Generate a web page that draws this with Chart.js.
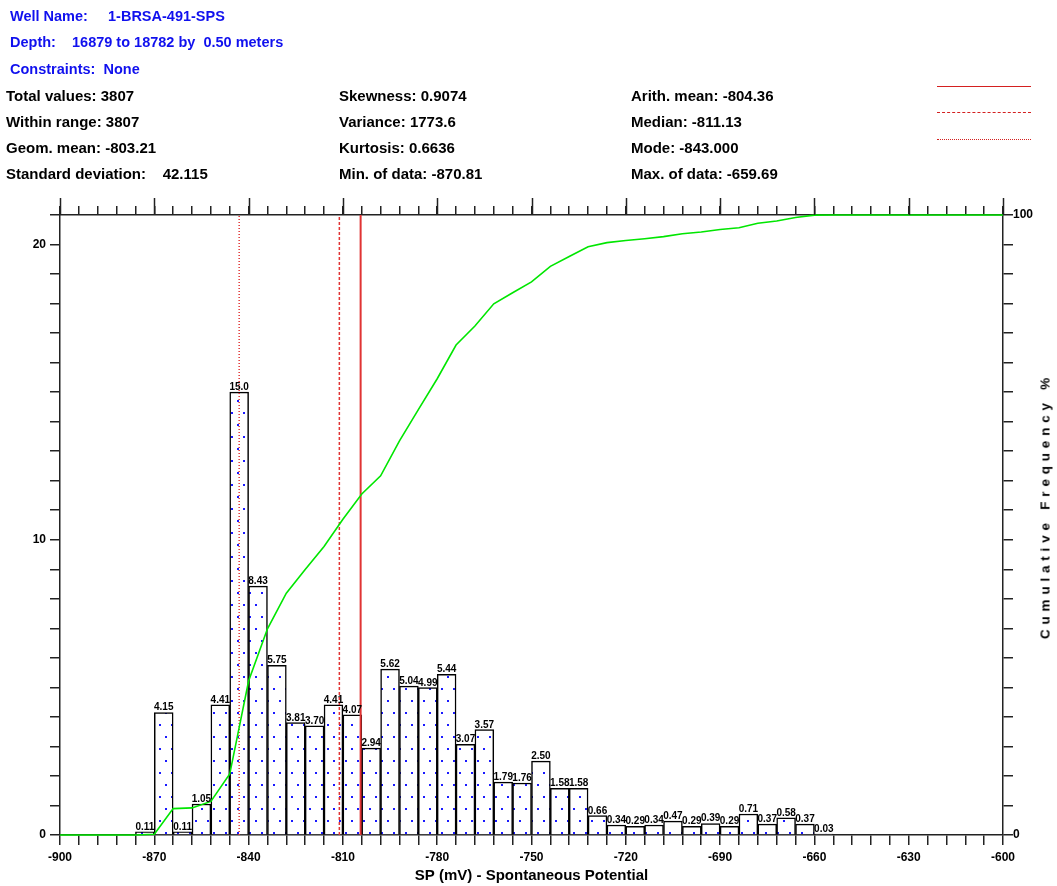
<!DOCTYPE html>
<html>
<head>
<meta charset="utf-8">
<script src="https://cdn.jsdelivr.net/npm/chart.js@4.4.1/dist/chart.umd.min.js"></script>
<style>
  body { margin: 0; background: #fff; font-family: "Liberation Sans", Arial, sans-serif; }
  #wrap { position: relative; width: 1057px; height: 886px; }
  #chart { position: absolute; left: 0; top: 0; }
  .txt { position: absolute; font-weight: bold; white-space: pre; line-height: 1; }
  .blue { color: #1010ee; font-size: 14.5px; }
  .blk { color: #000; font-size: 15px; }
  .leg { position: absolute; left: 937px; width: 94px; height: 0; border-top: 1.5px solid #d42020; }
  #ytitle2 {
    position: absolute; left: 1045px; top: 506px; font-weight: bold; font-size: 13.5px;
    letter-spacing: 4.8px; white-space: nowrap; transform: translate(-50%, -50%) rotate(-90deg);
  }
</style>
</head>
<body>
<div id="wrap">
  <canvas id="chart" width="1057" height="886"></canvas>

  <div class="txt blue" style="left:10px; top:9px;">Well Name:     1-BRSA-491-SPS</div>
  <div class="txt blue" style="left:10px; top:35px;">Depth:    16879 to 18782 by  0.50 meters</div>
  <div class="txt blue" style="left:10px; top:62px;">Constraints:  None</div>

  <div class="txt blk" style="left:6px; top:88px;">Total values: 3807</div>
  <div class="txt blk" style="left:6px; top:114px;">Within range: 3807</div>
  <div class="txt blk" style="left:6px; top:140px;">Geom. mean: -803.21</div>
  <div class="txt blk" style="left:6px; top:166px;">Standard deviation:    42.115</div>

  <div class="txt blk" style="left:339px; top:88px;">Skewness: 0.9074</div>
  <div class="txt blk" style="left:339px; top:114px;">Variance: 1773.6</div>
  <div class="txt blk" style="left:339px; top:140px;">Kurtosis: 0.6636</div>
  <div class="txt blk" style="left:339px; top:166px;">Min. of data: -870.81</div>

  <div class="txt blk" style="left:631px; top:88px;">Arith. mean: -804.36</div>
  <div class="txt blk" style="left:631px; top:114px;">Median: -811.13</div>
  <div class="txt blk" style="left:631px; top:140px;">Mode: -843.000</div>
  <div class="txt blk" style="left:631px; top:166px;">Max. of data: -659.69</div>

  <div class="leg" style="top:86px;"></div>
  <div class="leg" style="top:112px; border-top-style: dashed;"></div>
  <div class="leg" style="top:139px; border-top-style: dotted;"></div>

  <div id="ytitle2">Cumulative Frequency %</div>
</div>

<script>
// ---------------- DATA ----------------
const binWidth = 6;
const binStart = [-876, -870, -864, -858, -852, -846, -840, -834, -828, -822,
                  -816, -810, -804, -798, -792, -786, -780, -774, -768, -762,
                  -756, -750, -744, -738, -732, -726, -720, -714, -708, -702,
                  -696, -690, -684, -678, -672, -666, -660];
const binPct = [0.11, 4.15, 0.11, 1.05, 4.41, 15.0, 8.43, 5.75, 3.81, 3.70,
                4.41, 4.07, 2.94, 5.62, 5.04, 4.99, 5.44, 3.07, 3.57, 1.79,
                1.76, 2.50, 1.58, 1.58, 0.66, 0.34, 0.29, 0.34, 0.47, 0.29,
                0.39, 0.29, 0.71, 0.37, 0.58, 0.37, 0.03];

const cumX = [-900, -876, -870, -864, -858, -852, -846, -840, -834, -828,
              -822, -816, -810, -804, -798, -792, -786, -780, -774, -768,
              -762, -756, -750, -744, -738, -732, -726, -720, -714, -708,
              -702, -696, -690, -684, -678, -672, -666, -660, -654, -600];
const cumPct = [0, 0, 0.11, 4.26, 4.37, 5.42, 9.83, 24.83, 33.26, 39.01,
                42.82, 46.52, 50.93, 55.00, 57.94, 63.56, 68.60, 73.59, 79.03, 82.10,
                85.67, 87.46, 89.22, 91.72, 93.30, 94.88, 95.54, 95.88, 96.17, 96.51,
                96.98, 97.27, 97.66, 97.95, 98.66, 99.03, 99.61, 99.98, 100, 100];

const meanVal = -804.36;
const medianVal = -811.13;
const modeVal = -843.0;

const xMajorTicks = [-900, -870, -840, -810, -780, -750, -720, -690, -660, -630, -600];
const xMinorStep = 6;
const yLeftMax = 21;
const yLeftLabels = [0, 10, 20];

// ---------------- HELPERS ----------------
const ctx = document.getElementById("chart").getContext("2d");

// white fill with staggered blue dots
function dotPattern() {
  const c = document.createElement("canvas");
  c.width = 12; c.height = 24;
  const p = c.getContext("2d");
  p.fillStyle = "#fff";
  p.fillRect(0, 0, 12, 24);
  p.fillStyle = "#1a1aff";
  p.fillRect(3, 4, 2, 2);
  p.fillRect(9, 16, 2, 2);
  return ctx.createPattern(c, "repeat");
}

function minorTicks(scale) {
  const out = [];
  for (let v = xMajorTicks[0]; v <= xMajorTicks[xMajorTicks.length - 1]; v += xMinorStep) {
    out.push({ value: v });
  }
  scale.ticks = out;
}

function vline(v, dash, width) {
  return {
    type: "line",
    data: [{ x: v, y: 0 }, { x: v, y: yLeftMax }],
    borderColor: "#e03434",
    borderWidth: width,
    borderDash: dash,
    pointRadius: 0,
    yAxisID: "y",
    order: 2
  };
}

const boldFont = size => ({ family: "'Liberation Sans', Arial, sans-serif", size: size, weight: "bold" });

// bar value labels + long ticks on the top axis
const extrasPlugin = {
  id: "extras",
  afterDatasetsDraw(chart) {
    const c = chart.ctx;
    const meta = chart.getDatasetMeta(0);
    c.save();
    c.font = "bold 10px 'Liberation Sans', Arial, sans-serif";
    c.fillStyle = "#000";
    c.textAlign = "center";
    c.textBaseline = "alphabetic";
    meta.data.forEach((bar, i) => {
      const v = binPct[i];
      const label = v >= 10 ? v.toFixed(1) : v.toFixed(2);
      c.fillText(label, bar.x, bar.y - 2);
    });
    c.restore();
  },
  afterDraw(chart) {
    const c = chart.ctx;
    const sx = chart.scales.x2;
    const top = chart.chartArea.top;
    c.save();
    c.strokeStyle = "#222";
    c.lineWidth = 1.5;
    xMajorTicks.forEach(v => {
      const px = Math.round(sx.getPixelForValue(v)) + 0.5;
      c.beginPath();
      c.moveTo(px, top);
      c.lineTo(px, top - 17);
      c.stroke();
    });
    c.restore();
  }
};

// ---------------- CHART ----------------
new Chart(ctx, {
  type: "bar",
  data: {
    datasets: [
      {
        label: "Frequency",
        data: binStart.map((s, i) => ({ x: s + binWidth / 2, y: binPct[i] })),
        backgroundColor: dotPattern(),
        borderColor: "#000",
        borderWidth: 1.5,
        barPercentage: 1,
        categoryPercentage: 1,
        yAxisID: "y",
        order: 3
      },
      vline(meanVal, [], 2),
      vline(medianVal, [3, 2], 1.5),
      vline(modeVal, [1, 2], 1.5),
      {
        type: "line",
        label: "Cumulative",
        data: cumX.map((x, i) => ({ x: x, y: cumPct[i] })),
        borderColor: "#00e600",
        borderWidth: 1.6,
        pointRadius: 0,
        tension: 0,
        clip: 4,
        yAxisID: "y2",
        order: 1
      }
    ]
  },
  options: {
    responsive: false,
    animation: false,
    layout: { padding: { top: 200, left: 0, right: 0, bottom: 0 } },
    plugins: { legend: { display: false }, tooltip: { enabled: false } },
    scales: {
      x: {
        type: "linear",
        position: "bottom",
        min: -900, max: -600,
        offset: false,
        afterBuildTicks: minorTicks,
        afterFit: s => { s.height = 51; },
        ticks: {
          autoSkip: false, maxRotation: 0, padding: 5,
          color: "#000", font: boldFont(12),
          callback: v => (v % 30 === 0 ? String(v) : "")
        },
        grid: { drawOnChartArea: false, offset: false, tickLength: 10, color: "#222", lineWidth: 1.5 },
        border: { color: "#222", width: 1.5 },
        title: {
          display: true, text: "SP (mV) - Spontaneous Potential",
          color: "#000", font: boldFont(15), padding: { top: 0, bottom: 1 }
        }
      },
      x2: {
        type: "linear",
        position: "top",
        min: -900, max: -600,
        offset: false,
        afterBuildTicks: minorTicks,
        afterFit: s => { s.height = 15; },
        ticks: { display: false },
        grid: { drawOnChartArea: false, offset: false, tickLength: 9, color: "#222", lineWidth: 1.5 },
        border: { color: "#222", width: 1.5 }
      },
      y: {
        type: "linear",
        position: "left",
        min: 0, max: yLeftMax,
        afterBuildTicks: s => {
          const t = [];
          for (let v = 0; v <= yLeftMax; v++) t.push({ value: v });
          s.ticks = t;
        },
        afterFit: s => { s.width = 60; },
        ticks: {
          autoSkip: false, padding: 4, color: "#000", font: boldFont(12),
          callback: v => (yLeftLabels.includes(v) ? String(v) : "")
        },
        grid: { drawOnChartArea: false, tickLength: 10, color: "#222", lineWidth: 1.5 },
        border: { color: "#222", width: 1.5 }
      },
      y2: {
        type: "linear",
        position: "right",
        min: 0, max: 100,
        afterBuildTicks: s => {
          const t = [];
          for (let k = 0; k <= yLeftMax; k++) t.push({ value: k * 100 / yLeftMax });
          s.ticks = t;
        },
        afterFit: s => { s.width = 54; },
        ticks: {
          autoSkip: false, padding: 0, color: "#000", font: boldFont(12),
          callback: (v, i) => (i === 0 ? "0" : i === yLeftMax ? "100" : "")
        },
        grid: { drawOnChartArea: false, tickLength: 10, color: "#222", lineWidth: 1.5 },
        border: { color: "#222", width: 1.5 }
      }
    }
  },
  plugins: [extrasPlugin]
});
</script>
</body>
</html>
